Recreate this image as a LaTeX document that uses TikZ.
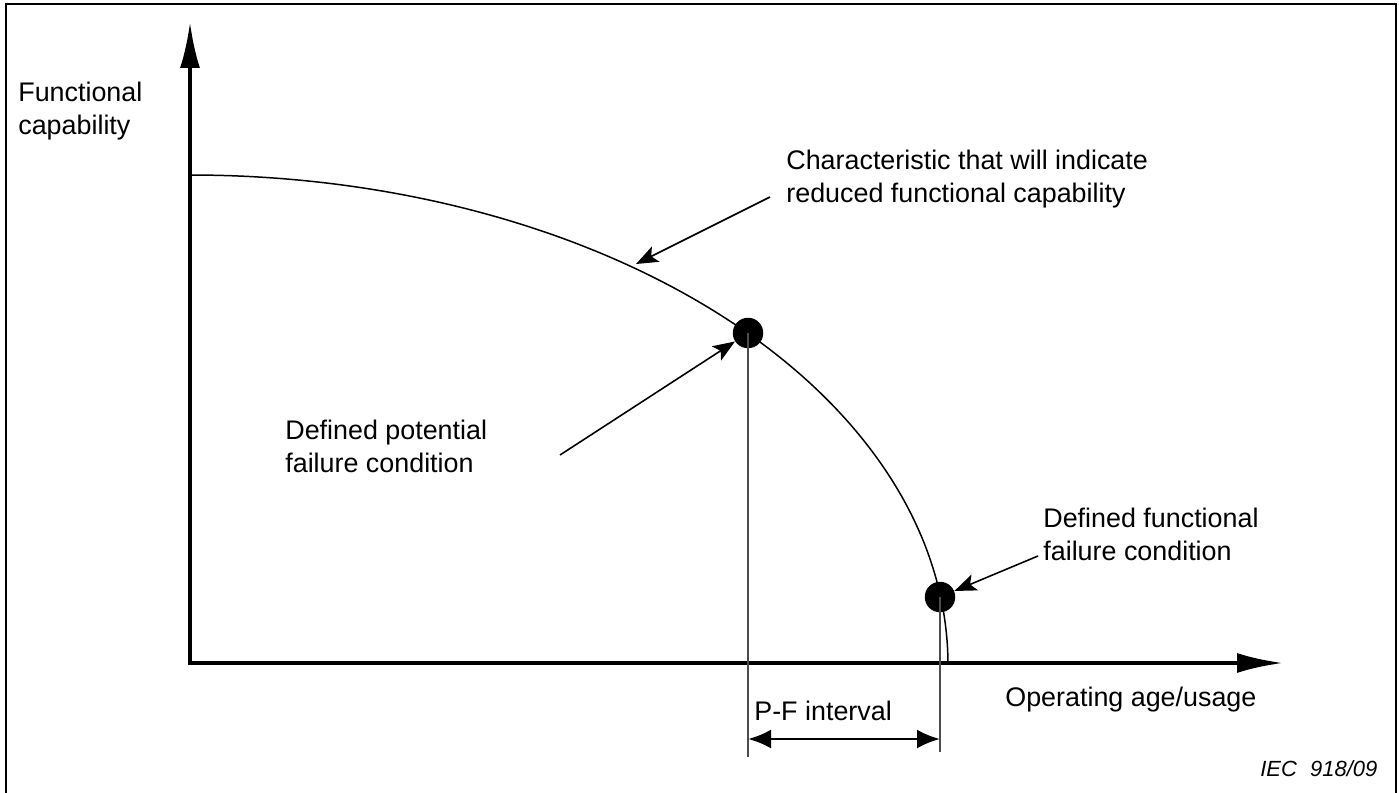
\documentclass[tikz,border=0pt]{standalone}
\usepackage{fontspec}
\setmainfont{Liberation Sans}
\usetikzlibrary{arrows.meta}

\tikzset{
	lbl/.style={anchor=north west,inner sep=0pt,align=left,font=\fontsize{15.3}{18.6}\selectfont},
	dot/.style={circle,fill=black,inner sep=0pt,minimum size=0.61cm},
	axis/.style={line width=2.2pt,-{Latex[length=0.92cm,width=0.4cm]}},
	pointer/.style={line width=0.9pt,-{Stealth[length=0.44cm,width=0.34cm,inset=0.1cm]}},
	drop/.style={line width=0.9pt,black!70}
}

\begin{document}
\begin{tikzpicture}[x=0.02cm,y=-0.02cm]
	\useasboundingbox (0,0) rectangle (1399,793);
	% cadre ouvert en bas
	\draw[line width=1pt] (6,793) -- (6,4) -- (1396,4) -- (1396,793);

	% axes
	\coordinate (O) at (190,663);
	\coordinate (ytop) at (190,22);
	\coordinate (xend) at (1283,663);
	\draw[axis] (190,665) -- (ytop);
	\draw[axis] (188,663) -- (xend);
	\node[lbl] (ylab) at (18,82) {Functional\\capability};
	\node[lbl] (xlab) at (1005,687) {Operating age/usage};

	% la courbe
	\draw[line width=0.85pt] plot[domain=0:90,samples=90,smooth,variable=\t]
		({190+758*sin(\t)},{665-490*cos(\t)});

	% points P et F
	\node[dot] (P) at (748,333) {};
	\node[dot] (F) at (940,597) {};

	\coordinate (Pfoot) at (748,757);
	\coordinate (Ffoot) at (940,752);
	\draw[drop] (P.center) -- (Pfoot);
	\draw[drop] (F.center) -- (Ffoot);

	% intervalle P-F
	\coordinate (pa) at (748,739);
	\coordinate (fa) at (940,739);
	\draw[line width=1.6pt,{Latex[length=0.46cm,width=0.38cm]}-{Latex[length=0.46cm,width=0.38cm]}] (pa) -- (fa);
	\node[lbl] (pf) at (754,701) {P-F interval};

	% etiquettes et fleches
	\node[lbl] (charlab) at (786,150) {Characteristic that will indicate\\reduced functional capability};
	\coordinate (chartail) at (770,197);
	\coordinate (charhead) at (636,264);
	\draw[pointer] (chartail) -- (charhead);

	\node[lbl] (potlab) at (285,420) {Defined potential\\failure condition};
	\coordinate (pottail) at (560,455);
	\draw[pointer] (pottail) -- (P);

	\node[lbl] (funlab) at (1043,508) {Defined functional\\failure condition};
	\coordinate (funtail) at (1038,556);
	\draw[pointer] (funtail) -- (F);

	\node[lbl,font=\fontsize{12.5}{14}\selectfont\itshape] (iec) at (1260,760) {IEC\hspace{0.6em}918/09};
\end{tikzpicture}
\end{document}
